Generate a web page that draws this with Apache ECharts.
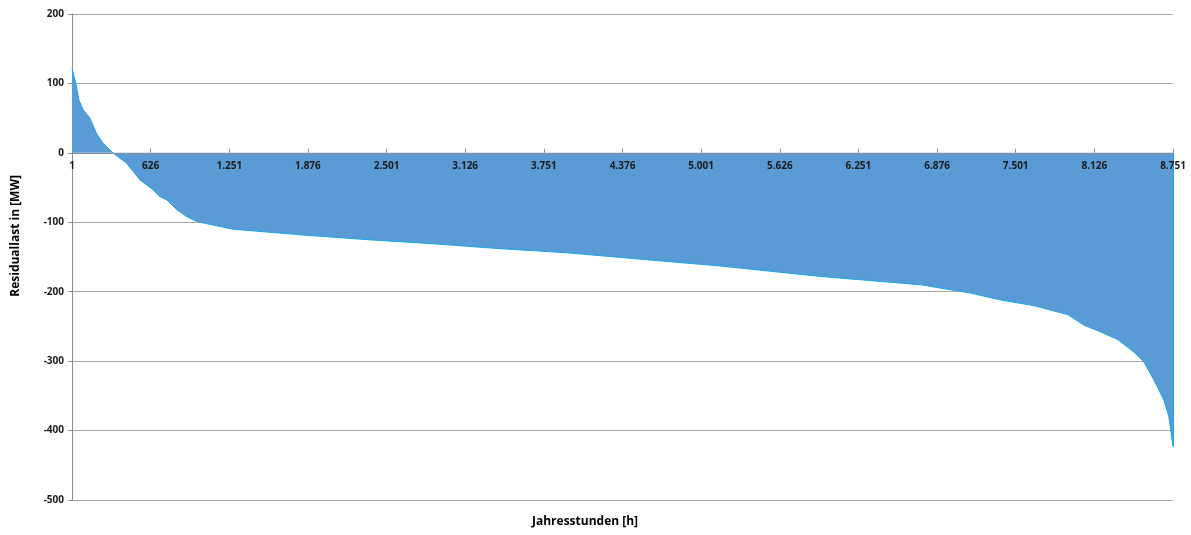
<!DOCTYPE html>
<html>
<head>
<meta charset="utf-8">
<script src="https://cdn.jsdelivr.net/npm/echarts@6/dist/echarts.min.js"></script>
<style>
html,body{margin:0;padding:0;background:#fff;}
#c{width:1191px;height:535px;}
</style>
</head>
<body>
<div id="c"></div>
<script>
// Jahresstunden (1-based) and Residuallast [MW]
var hours = [1, 32, 56, 90, 143, 196, 247, 326, 435, 541, 644, 700, 756, 835, 915, 994, 1281, 1814, 2347, 2872, 3405, 3937, 4574, 5155, 5950, 6745, 7143, 7382, 7644, 7915, 8042, 8177, 8312, 8440, 8519, 8599, 8678, 8718, 8751];
var residual = [122, 100, 76, 62, 50, 28, 14, 0, -15, -39, -53, -63, -68, -82, -92, -99, -110, -118, -125, -131, -138, -144, -154, -163, -178, -190, -202, -212, -220, -233, -248, -258, -269, -287, -301, -327, -356, -380, -423];
var yTicks = [-500, -400, -300, -200, -100, 0, 100, 200];
var xTickStep = 625;

var data = hours.map(function (h, i) { return [h - 1, residual[i]]; });
var lastX = hours[hours.length - 1] - 1;
var lastY = residual[residual.length - 1];

var W = 1191, H = 535;
var gridTop = 14, gridBottom = 35;
var yMin = yTicks[0], yMax = yTicks[yTicks.length - 1];
// place the x axis at value 0 of the y scale
var zeroOffset = -(H - gridTop - gridBottom) * (0 - yMin) / (yMax - yMin);

var font = '"Open Sans", "Noto Sans", sans-serif';
var chart = echarts.init(document.getElementById('c'), null, {renderer: 'canvas'});
chart.setOption({
  animation: false,
  grid: {left: 72, right: 18, top: gridTop, bottom: gridBottom},
  xAxis: {
    type: 'value',
    z: 10,
    min: 0,
    max: lastX,
    interval: xTickStep,
    offset: zeroOffset,
    axisLine: {onZero: false, lineStyle: {color: '#8c8c8c', width: 1}},
    axisTick: {show: true, inside: true, length: 4, lineStyle: {color: '#8c8c8c'}},
    axisLabel: {
      margin: 8,
      fontFamily: font, fontWeight: 'bold', fontSize: 10, color: '#1a1a1a',
      formatter: function (v) { return (v + 1).toLocaleString('de-DE'); }
    },
    splitLine: {show: false}
  },
  yAxis: {
    type: 'value',
    min: yMin,
    max: yMax,
    interval: yTicks[1] - yTicks[0],
    axisLine: {show: true, onZero: false, lineStyle: {color: '#8c8c8c'}},
    axisTick: {show: true, length: 4, lineStyle: {color: '#8c8c8c'}},
    axisLabel: {margin: 8, fontFamily: font, fontWeight: 'bold', fontSize: 10, color: '#1a1a1a'},
    splitLine: {show: true, lineStyle: {color: '#a6a6a6', width: 1}}
  },
  series: [{
    type: 'line',
    data: data,
    symbol: 'none',
    smooth: false,
    lineStyle: {color: '#1aa6e6', width: 1},
    areaStyle: {color: '#5b9bd5', opacity: 1, origin: 0},
    markLine: {
      silent: true,
      symbol: 'none',
      label: {show: false},
      lineStyle: {color: '#1aa6e6', width: 1, type: 'solid'},
      data: [
        [{coord: [0, 0]}, {coord: [lastX, 0]}],
        [{coord: [lastX, 0]}, {coord: [lastX, lastY]}]
      ]
    }
  }],
  graphic: [
    {
      type: 'text',
      left: 10, top: 175,
      rotation: Math.PI / 2,
      style: {text: 'Residuallast in [MW]', fontFamily: font, fontWeight: 'bold', fontSize: 12, fill: '#000'}
    },
    {
      type: 'text',
      left: 532, top: 516,
      style: {text: 'Jahresstunden [h]', fontFamily: font, fontWeight: 'bold', fontSize: 12, fill: '#000'}
    }
  ]
});
</script>
</body>
</html>
